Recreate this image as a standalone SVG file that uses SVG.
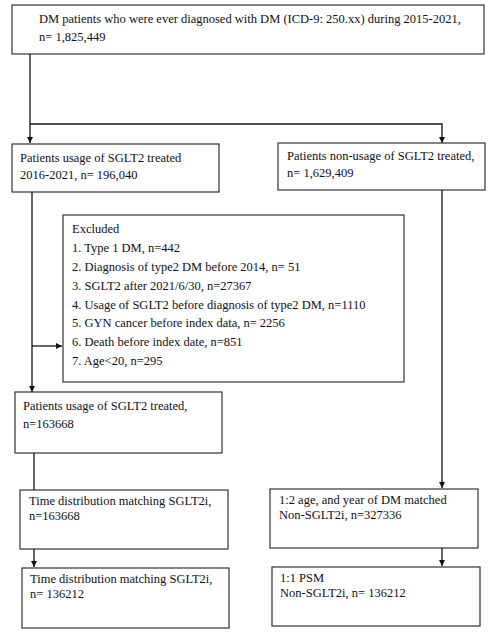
<svg xmlns="http://www.w3.org/2000/svg" width="490" height="633" viewBox="0 0 490 633" font-family="Liberation Serif, Times New Roman, serif">
<style>
rect.box{fill:#fff;stroke:#333;stroke-width:1.2}
text{font-size:12.5px;fill:#111}
.ln{fill:none;stroke:#111;stroke-width:1.3}
</style>
<defs>
<marker id="ah" viewBox="0 0 10 10" refX="10" refY="5" markerWidth="6" markerHeight="6" orient="auto" markerUnits="userSpaceOnUse">
<path d="M0,0 L10,5 L0,10 z" fill="#111"/>
</marker>
</defs>
<rect width="490" height="633" fill="#fff"/>
<g id="connectors">
<path class="ln" d="M30,54 V143" marker-end="url(#ah)"/>
<path class="ln" d="M30,124 H442 V143" marker-end="url(#ah)"/>
<path class="ln" d="M32,192 V392" marker-end="url(#ah)"/>
<path class="ln" d="M32,346 H62" marker-end="url(#ah)"/>
<path class="ln" d="M442,190 V488" marker-end="url(#ah)"/>
<path class="ln" d="M34,453 V490"/>
<path class="ln" d="M34,549 V567" marker-end="url(#ah)"/>
<path class="ln" d="M442,548 V566" marker-end="url(#ah)"/>
</g>
<g id="n1"><rect class="box" x="12" y="5" width="472" height="49"/>
<text x="39" y="23">DM patients who were ever diagnosed with DM (ICD-9: 250.xx) during 2015-2021,</text>
<text x="39" y="41">n= 1,825,449</text></g>
<g id="n2"><rect class="box" x="12" y="144" width="207" height="48"/>
<text x="20" y="162">Patients usage of SGLT2 treated</text>
<text x="20" y="179">2016-2021, n= 196,040</text></g>
<g id="n3"><rect class="box" x="278" y="143" width="207" height="47"/>
<text x="287" y="160">Patients non-usage of SGLT2 treated,</text>
<text x="287" y="177">n= 1,629,409</text></g>
<g id="n4"><rect class="box" x="63" y="215" width="341" height="167"/>
<text x="72" y="233">Excluded</text>
<text x="72" y="252">1. Type 1 DM, n=442</text>
<text x="72" y="271">2. Diagnosis of type2 DM before 2014, n= 51</text>
<text x="72" y="290">3. SGLT2 after 2021/6/30, n=27367</text>
<text x="72" y="309">4. Usage of SGLT2 before diagnosis of type2 DM, n=1110</text>
<text x="72" y="327">5. GYN cancer before index data, n= 2256</text>
<text x="72" y="346">6. Death before index date, n=851</text>
<text x="72" y="365">7. Age&lt;20, n=295</text></g>
<g id="n5"><rect class="box" x="15" y="392" width="207" height="61"/>
<text x="23" y="410">Patients usage of SGLT2 treated,</text>
<text x="23" y="428">n=163668</text></g>
<g id="n6"><rect class="box" x="20" y="490" width="208" height="59"/>
<text x="29" y="505">Time distribution matching SGLT2i,</text>
<text x="29" y="520">n=163668</text></g>
<g id="n7"><rect class="box" x="22" y="568" width="207" height="60"/>
<text x="30" y="583">Time distribution matching SGLT2i,</text>
<text x="30" y="598">n= 136212</text></g>
<g id="n8"><rect class="box" x="270" y="489" width="208" height="59"/>
<text x="279" y="504">1:2 age, and year of DM matched</text>
<text x="279" y="519">Non-SGLT2i, n=327336</text></g>
<g id="n9"><rect class="box" x="272" y="567" width="208" height="59"/>
<text x="280" y="582">1:1 PSM</text>
<text x="280" y="597">Non-SGLT2i, n= 136212</text></g>
</svg>
